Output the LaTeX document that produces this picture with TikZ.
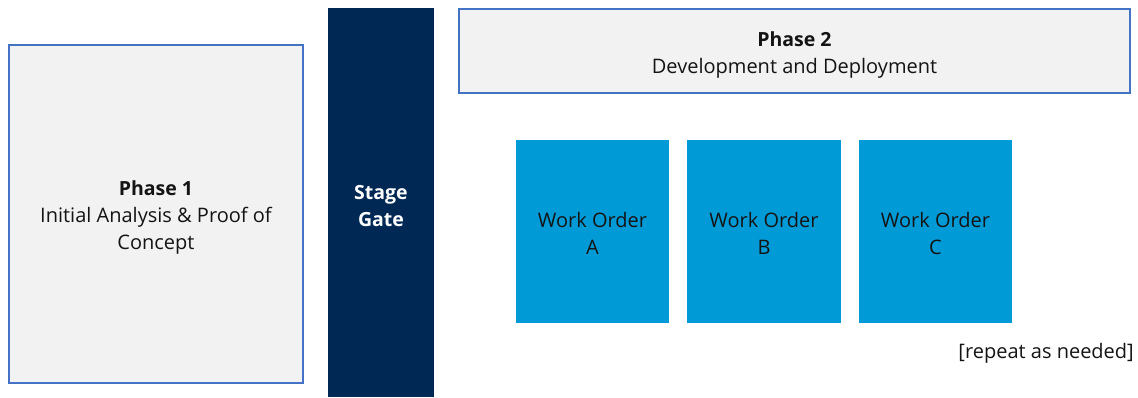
\documentclass[tikz,border=0pt]{standalone}
\usepackage{fontspec}
\setmainfont{Open Sans}
\definecolor{phasefill}{RGB}{242,242,242}
\definecolor{phaseline}{RGB}{68,114,196}
\definecolor{gatefill}{RGB}{0,40,85}
\definecolor{orderfill}{RGB}{0,155,215}
\newcommand{\headline}[1]{{\fontsize{19.5}{27}\selectfont\bfseries #1}}
\begin{document}
\begin{tikzpicture}[x=1pt,y=-1pt,
  phasebox/.style={draw=phaseline,line width=1.3pt,fill=phasefill},
  labeltext/.style={align=center,text=black!92,font=\fontsize{20}{27}\selectfont},
  orderbox/.style={fill=orderfill,draw=none}]
\useasboundingbox (0,0) rectangle (1138,397);
% Phase 1
\path[phasebox] (9,45) rectangle (303,383);
\node[labeltext] (p1) at (156,217) {\headline{Phase 1}\\Initial Analysis \& Proof of\\Concept};
% stage gate
\path[fill=gatefill] (328,8) rectangle (434,397);
\node[labeltext,text=white] (gate) at (381,206) {\headline{Stage}\\\headline{Gate}};
% Phase 2
\path[phasebox] (459,9) rectangle (1130,93);
\node[labeltext] (p2) at (794.5,55) {\headline{Phase 2}\\Development and Deployment};
% work orders
\path[orderbox] (516,140) rectangle (669,323);
\path[orderbox] (687,140) rectangle (841,323);
\path[orderbox] (859,140) rectangle (1012,323);
\node[labeltext] (woa) at (592.5,233.5) {Work Order\\A};
\node[labeltext] (wob) at (764,233.5) {Work Order\\B};
\node[labeltext] (woc) at (935.5,233.5) {Work Order\\C};
\node[anchor=east,labeltext,inner sep=0pt] (rep) at (1134,353) {[repeat as needed]};
\end{tikzpicture}
\end{document}
